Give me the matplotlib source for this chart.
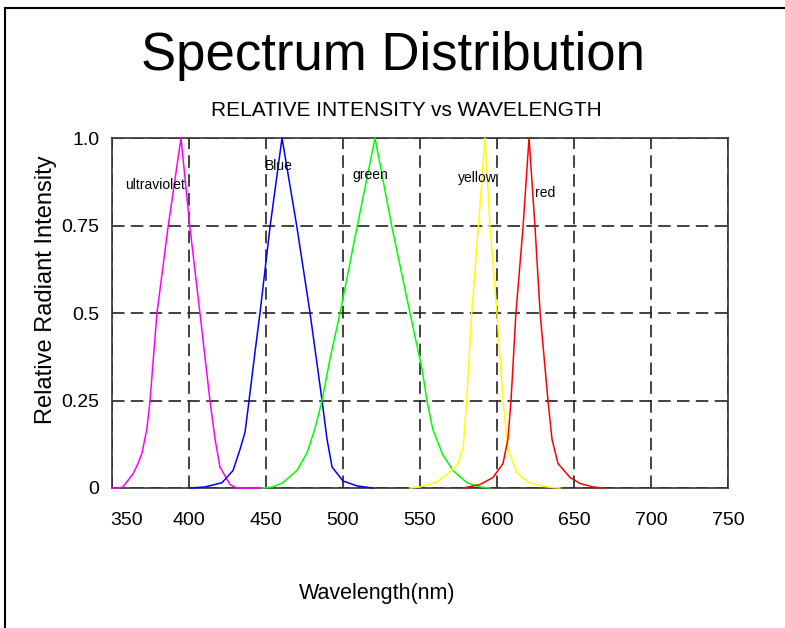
import numpy as np
import matplotlib
matplotlib.use("Agg")
import matplotlib.pyplot as plt
from matplotlib.transforms import ScaledTranslation
from matplotlib.lines import Line2D

plt.rcParams['font.family'] = ['Liberation Sans', 'DejaVu Sans']

#------------------------------------DATA----------------------------------------#

# wavelength (nm) / relative intensity
uv_wl = [350, 353.9, 357.1, 363.6, 366.9, 369.5, 372.7, 374.7, 379.2, 386.4, 394.8,
         400.6, 407.1, 413.6, 416.9, 420.1, 426.6, 431.2, 448]
uv_int = [0, 0, 0.003, 0.04, 0.07, 0.10, 0.17, 0.25, 0.5, 0.745, 1.0,
          0.745, 0.5, 0.25, 0.14, 0.06, 0.01, 0, 0]

blue_wl = [400.6, 410.4, 421.4, 428.6, 433.1, 436.4, 439.0, 442.9, 446.1, 452.6, 460.4,
           470.1, 478.6, 486.4, 489.6, 492.9, 500.0, 509.1, 519.5]
blue_int = [0, 0.003, 0.015, 0.05, 0.11, 0.16, 0.25, 0.39, 0.5, 0.745, 1.0,
            0.745, 0.5, 0.25, 0.14, 0.06, 0.02, 0.006, 0]

green_wl = [447.4, 454.5, 461.0, 470.1, 476.6, 481.8, 486.4, 491.6, 498.1, 509.1, 520.8,
            531.8, 543.5, 551.3, 554.5, 558.4, 564.9, 571.4, 580.5, 589.0, 595.5]
green_int = [0, 0.003, 0.015, 0.05, 0.10, 0.17, 0.25, 0.37, 0.5, 0.745, 1.0,
             0.745, 0.5, 0.34, 0.25, 0.166, 0.094, 0.05, 0.015, 0.003, 0]

yellow_wl = [543.5, 550.0, 561.0, 569.5, 574.7, 578.1, 580.3, 583.6, 587.9, 592.2,
             595.5, 600.0, 603.9, 607.1, 613.0, 621.4, 632.5, 640.9]
yellow_int = [0, 0.003, 0.017, 0.046, 0.07, 0.118, 0.25, 0.5, 0.745, 1.0,
              0.745, 0.5, 0.25, 0.11, 0.043, 0.014, 0.003, 0]

red_wl = [577.9, 589.0, 597.4, 603.9, 607.1, 609.1, 612.3, 616.9, 620.8,
          624.7, 628.0, 633.1, 635.7, 639.6, 647.4, 653.9, 662.4, 668.9]
red_int = [0, 0.01, 0.03, 0.07, 0.14, 0.25, 0.5, 0.745, 1.0,
           0.745, 0.5, 0.25, 0.14, 0.07, 0.03, 0.013, 0.003, 0]

series = [(uv_wl, uv_int, '#ff00ff'),
          (blue_wl, blue_int, '#0000ff'),
          (green_wl, green_int, '#00ff00'),
          (yellow_wl, yellow_int, '#ffff00'),
          (red_wl, red_int, '#ff0000')]

label_names = ['ultraviolet', 'Blue', 'green', 'yellow', 'red']
label_x = [358.4, 449.4, 505.8, 574.7, 624.7]
label_y = [0.866, 0.92, 0.894, 0.886, 0.843]

x_ticks = [350, 400, 450, 500, 550, 600, 650, 700, 750]
y_ticks = [0, 0.25, 0.5, 0.75, 1.0]
y_tick_labels = ['0', '0.25', '0.5', '0.75', '1.0']

#------------------------------------PLOTTING----------------------------------------#

fig = plt.figure(figsize=(7.85, 6.28), dpi=100)
ax = fig.add_axes([112/785, 140/628, 616/785, 350/628])

for wl, inten, col in series:
    ax.plot(wl, inten, color=col, lw=1.1, clip_on=False, zorder=3)

for name, lx, ly in zip(label_names, label_x, label_y):
    ax.text(lx, ly, name, fontsize=10, ha='left', va='center', color='black', zorder=4)

ax.set_xlim(350, 750)
ax.set_ylim(0, 1.0)
ax.set_xticks(x_ticks)
ax.set_yticks(y_ticks)
ax.set_yticklabels(y_tick_labels)
ax.tick_params(axis='both', length=0, labelsize=14)
ax.tick_params(axis='x', pad=17)
ax.tick_params(axis='y', pad=9)

# dashed grid
ax.grid(True, color='#222222', lw=1.2, linestyle=(0, (7.5, 3.8)), zorder=1)
ax.set_axisbelow(True)
for sp in ax.spines.values():
    sp.set_color('#333333')
    sp.set_linewidth(1.2)

# the 350 label sits a bit right of the axis corner
first = ax.xaxis.get_major_ticks()[0].label1
first.set_transform(first.get_transform() + ScaledTranslation(0.15, 0, fig.dpi_scale_trans))

# titles and axis labels
fig.text(0.5, 1 - 70/628, 'Spectrum Distribution', fontsize=38, ha='center', va='baseline')
fig.text(406/785, 1 - 116/628, 'RELATIVE INTENSITY vs WAVELENGTH', fontsize=15,
         ha='center', va='baseline')
fig.text(46/785, 1 - 290/628, 'Relative Radiant Intensity', fontsize=17, rotation=90,
         ha='center', va='center')
fig.text(377/785, 1 - 594/628, 'Wavelength(nm)', fontsize=15.5, ha='center', va='center')

# frame around the window
fig.add_artist(Line2D([5/785, 5/785], [0, 1 - 8/628], transform=fig.transFigure,
                      color='black', lw=1.5))
fig.add_artist(Line2D([5/785, 1], [1 - 8/628, 1 - 8/628], transform=fig.transFigure,
                      color='black', lw=1.5))

fig.savefig('out.png', dpi=100)
